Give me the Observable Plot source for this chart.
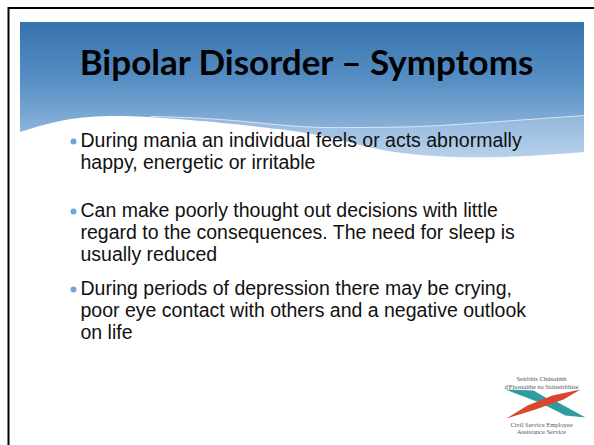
<!DOCTYPE html>
<html><head><meta charset="utf-8">
<script src="https://cdn.jsdelivr.net/npm/d3@7"></script>
<script src="https://cdn.jsdelivr.net/npm/@observablehq/plot@0.6"></script>
<style>body{margin:0;background:#fff;overflow:hidden}</style>
</head><body><div id="chart"></div>
<script>
// ---- content ----
const title = "Bipolar Disorder – Symptoms";
const bulletPoints = [
  ["During mania an individual feels or acts abnormally", "happy, energetic or irritable"],
  ["Can make poorly thought out decisions with little", "regard to the consequences. The need for sleep is", "usually reduced"],
  ["During periods of depression there may be crying,", "poor eye contact with others and a negative outlook", "on life"]
];
const logoTop = ["Seirbhís Chúnaimh", "d'Fhostaithe na Státseirbhíse"];
const logoBottom = ["Civil Service Employee", "Assistance Service"];

// ---- header shape (slide decoration) ----
const waveX      = [20, 60, 110, 190, 300, 360, 420, 500, 584];
const waveBottom = [132, 121, 116, 120, 132, 145, 155, 157, 152];
const bandX      = [150, 220, 300, 360, 420, 500, 584];
const bandTop    = [116, 119, 126, 127, 126, 121, 115];
const bandBottom = [116, 124, 132, 145, 155, 157, 152];

// ---- logo shapes ----
const tealUpper = [[505,389],[533,390],[552,401],[544,404]];
const tealLower = [[541,403],[554,400],[585,417],[565,415]];
const redBlade  = [[506,418],[527,405],[552,395],[580,389],[563,399],[535,409]];

// layout
const firstBaseline = 146, lineStep = 22, paraGaps = [26, 12];
const rows = [], dots = [];
let yy = firstBaseline;
bulletPoints.forEach((p, i) => {
  dots.push({y: yy - 5});
  p.forEach((t) => { rows.push({text: t, y: yy}); yy += lineStep; });
  yy += paraGaps[i] || 0;
});
const headerData = waveX.map((x, i) => ({x, y1: 22, y2: waveBottom[i]}));
const bandData = bandX.map((x, i) => ({x, y1: bandTop[i], y2: bandBottom[i]}));
const logoTextRows = [
  ...logoTop.map((t, i) => ({text: t, y: 380 + i * 8})),
  ...logoBottom.map((t, i) => ({text: t, y: 426 + i * 7.5}))
];

const plot = Plot.plot({
  width: 594, height: 445,
  margin: 0,
  x: {domain: [0, 594], range: [0, 594], axis: null},
  y: {domain: [0, 445], range: [0, 445], axis: null},
  style: {background: "#fff"},
  marks: [
    Plot.areaY(headerData, {x: "x", y1: "y1", y2: "y2", curve: "natural", fill: "url(#hdrGrad)"}),
    Plot.areaY(bandData, {x: "x", y1: "y1", y2: "y2", curve: "natural", fill: "#ffffff", fillOpacity: 0.18}),
    Plot.lineY(bandData, {x: "x", y: "y1", curve: "natural", stroke: "#ffffff", strokeOpacity: 0.6, strokeWidth: 1}),
    Plot.ruleY([7.5], {x1: 8, x2: 594, stroke: "#000", strokeWidth: 2}),
    Plot.ruleX([8], {y1: 7, y2: 445, stroke: "#000", strokeWidth: 2}),
    Plot.text([title], {x: 306, y: 74, text: (d) => d, lineAnchor: "bottom", fontFamily: "Lato", fontWeight: "bold", fontSize: 35, fill: "#000"}),
    Plot.dot(dots, {x: 73, y: "y", r: 3, fill: "#6fa6d8", stroke: null}),
    Plot.text(rows, {x: 80, y: "y", text: "text", textAnchor: "start", lineAnchor: "bottom", fontFamily: "Liberation Sans", fontSize: 19.5, fill: "#111"}),
    Plot.line(tealUpper, {x: (d) => d[0], y: (d) => d[1], curve: "linear-closed", fill: "#2f9c9e", stroke: null}),
    Plot.line(tealLower, {x: (d) => d[0], y: (d) => d[1], curve: "linear-closed", fill: "#2f9c9e", stroke: null}),
    Plot.line(redBlade, {x: (d) => d[0], y: (d) => d[1], curve: "linear-closed", fill: "#d9462e", stroke: null}),
    Plot.text(logoTextRows, {x: 541, y: "y", text: "text", lineAnchor: "bottom", fontFamily: "Liberation Serif", fontSize: 6.5, fill: "#4b5a5a"})
  ]
});
const svg = d3.select(plot);
const defs = svg.insert("defs", ":first-child");
const g = defs.append("linearGradient").attr("id", "hdrGrad").attr("x1", 0).attr("y1", 0).attr("x2", 0).attr("y2", 1);
g.append("stop").attr("offset", "0%").attr("stop-color", "#3673ad");
g.append("stop").attr("offset", "45%").attr("stop-color", "#5890c5");
g.append("stop").attr("offset", "100%").attr("stop-color", "#a8c7e6");
document.getElementById("chart").append(plot);
</script>
</body></html>
